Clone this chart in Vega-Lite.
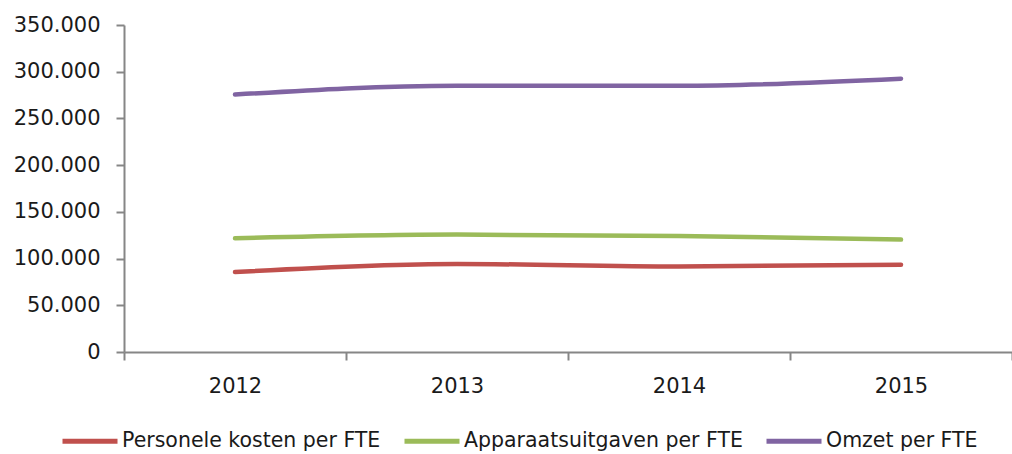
{
  "$schema": "https://vega.github.io/schema/vega-lite/v6.json",
  "width": 888,
  "height": 327,
  "autosize": {"type": "none"},
  "padding": {"left": 124, "top": 25, "right": 0, "bottom": 102},
  "background": "white",
  "config": {
    "locale": {"number": {"decimal": ",", "thousands": ".", "grouping": [3], "currency": ["€", ""]}},
    "view": {"stroke": null},
    "font": "DejaVu Sans"
  },
  "data": {
    "values": [
      {"jaar": "2012", "reeks": "Personele kosten per FTE", "waarde": 85600},
      {"jaar": "2013", "reeks": "Personele kosten per FTE", "waarde": 94200},
      {"jaar": "2014", "reeks": "Personele kosten per FTE", "waarde": 91400},
      {"jaar": "2015", "reeks": "Personele kosten per FTE", "waarde": 93500},
      {"jaar": "2012", "reeks": "Apparaatsuitgaven per FTE", "waarde": 121700},
      {"jaar": "2013", "reeks": "Apparaatsuitgaven per FTE", "waarde": 125700},
      {"jaar": "2014", "reeks": "Apparaatsuitgaven per FTE", "waarde": 124200},
      {"jaar": "2015", "reeks": "Apparaatsuitgaven per FTE", "waarde": 120300},
      {"jaar": "2012", "reeks": "Omzet per FTE", "waarde": 275500},
      {"jaar": "2013", "reeks": "Omzet per FTE", "waarde": 285100},
      {"jaar": "2014", "reeks": "Omzet per FTE", "waarde": 285000},
      {"jaar": "2015", "reeks": "Omzet per FTE", "waarde": 292600}
    ]
  },
  "mark": {"type": "line", "interpolate": "monotone", "strokeWidth": 4.5, "strokeCap": "round"},
  "encoding": {
    "x": {
      "field": "jaar",
      "type": "ordinal",
      "scale": {"type": "band", "paddingInner": 0, "paddingOuter": 0},
      "axis": {
        "title": null,
        "labelAngle": 0,
        "labelFont": "DejaVu Sans",
        "labelFontSize": 21,
        "labelColor": "#1a1a1a",
        "labelPadding": 15,
        "domainColor": "#868686",
        "domainWidth": 2,
        "tickColor": "#868686",
        "tickWidth": 2,
        "tickSize": 8,
        "tickBand": "extent",
        "grid": false
      }
    },
    "y": {
      "field": "waarde",
      "type": "quantitative",
      "scale": {"domain": [0, 350000], "nice": false},
      "axis": {
        "title": null,
        "values": [0, 50000, 100000, 150000, 200000, 250000, 300000, 350000],
        "format": ",.0f",
        "labelFont": "DejaVu Sans",
        "labelFontSize": 21,
        "labelColor": "#1a1a1a",
        "labelPadding": 16,
        "domainColor": "#868686",
        "domainWidth": 2,
        "tickColor": "#868686",
        "tickWidth": 2,
        "tickSize": 8,
        "grid": false
      }
    },
    "color": {
      "field": "reeks",
      "type": "nominal",
      "sort": ["Personele kosten per FTE", "Apparaatsuitgaven per FTE", "Omzet per FTE"],
      "scale": {
        "domain": ["Personele kosten per FTE", "Apparaatsuitgaven per FTE", "Omzet per FTE"],
        "range": ["#C0504D", "#9BBB59", "#8064A2"]
      },
      "legend": {
        "title": null,
        "orient": "none",
        "direction": "horizontal",
        "legendX": -64,
        "legendY": 386,
        "symbolType": "stroke",
        "symbolSize": 3025,
        "symbolStrokeWidth": 5,
        "labelFont": "DejaVu Sans",
        "labelFontSize": 20.5,
        "labelColor": "#1a1a1a",
        "labelOffset": 2,
        "columnPadding": 13,
        "labelLimit": 400
      }
    }
  }
}
